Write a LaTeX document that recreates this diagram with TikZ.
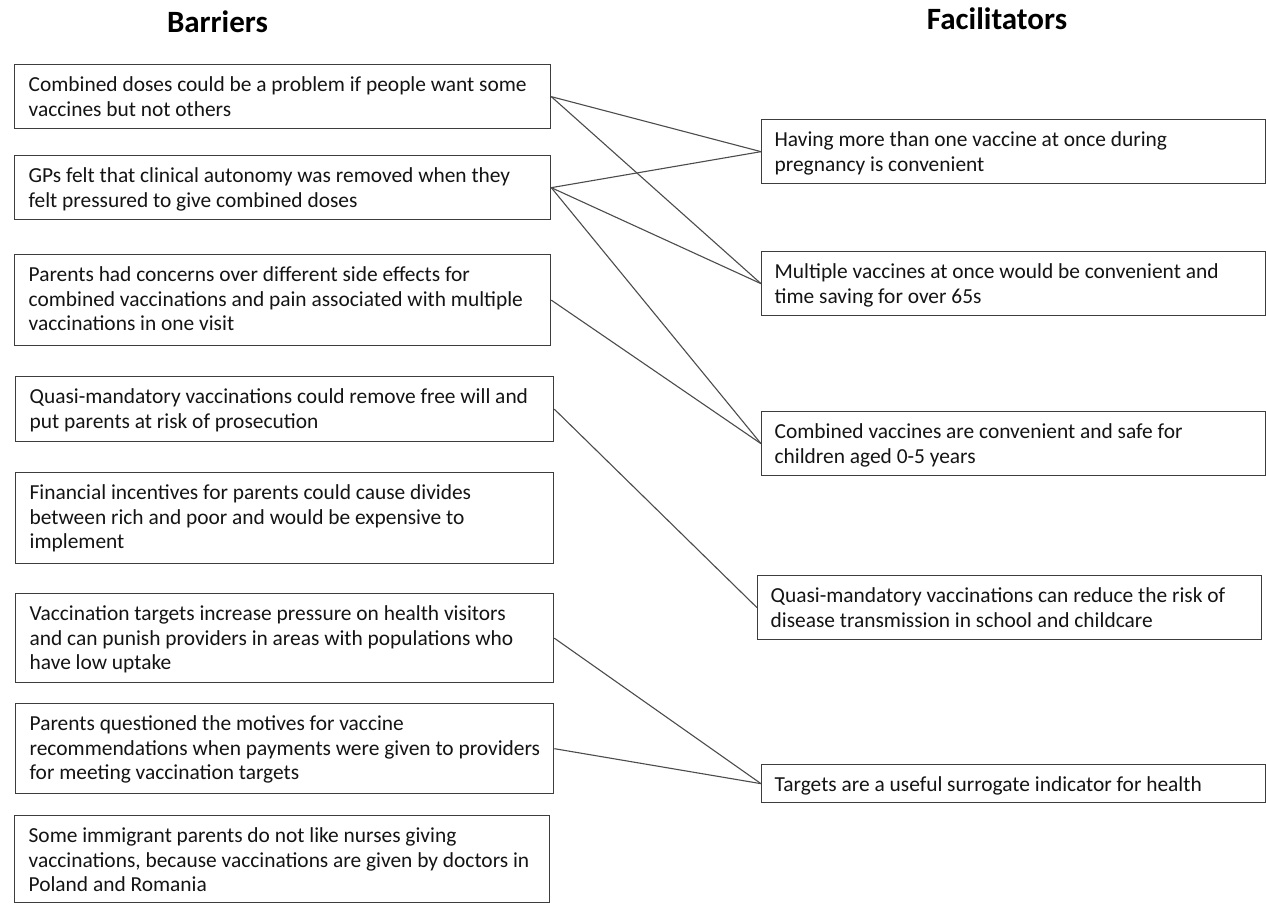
\documentclass[tikz,border=0pt]{standalone}
\usepackage{fontspec}
\setmainfont{Carlito}
\newcommand\bxfont{\fontsize{21.4}{24.5}\selectfont}
\newcommand\hdfont{\fontsize{31}{36}\selectfont\bfseries}
\newcommand\bxt[4]{\parbox[t][#2pt][t]{#1pt}{\leftskip=#3pt\rightskip=0pt plus 1fil\parfillskip=0pt plus 1fil\rule{0pt}{27pt}#4}}
\tikzset{
  box/.style={draw=black!76, line width=1.3pt, inner sep=0pt, anchor=north west, font=\bxfont, text=black!92},
  link/.style={draw=black!70, line width=1.1pt},
  head/.style={font=\hdfont, anchor=base, text=black, inner sep=0pt}
}
\begin{document}
\begin{tikzpicture}[x=1pt,y=-1pt]
\useasboundingbox (0,0) rectangle (1266,903);
\fill[white] (0,0) rectangle (1266,903);
\node[head] (hb) at (217.5,32) {Barriers};
\node[head] (hf) at (997,29) {Facilitators};

\node[box] (b1) at (14,64) {\bxt{536}{64}{14}{Combined doses could be a problem if people want some\\vaccines but not others}};
\node[box] (b2) at (14,155) {\bxt{536}{64}{14}{GPs felt that clinical autonomy was removed when they\\felt pressured to give combined doses}};
\node[box] (b3) at (14,254) {\bxt{536}{91}{14}{Parents had concerns over different side effects for\\combined vaccinations and pain associated with multiple\\vaccinations in one visit}};
\node[box] (b4) at (15,376) {\bxt{538}{65}{14}{Quasi-mandatory vaccinations could remove free will and\\put parents at risk of prosecution}};
\node[box] (b5) at (15,472) {\bxt{538}{91}{14}{Financial incentives for parents could cause divides\\between rich and poor and would be expensive to\\implement}};
\node[box] (b6) at (15,593) {\bxt{538}{89}{14}{Vaccination targets increase pressure on health visitors\\and can punish providers in areas with populations who\\have low uptake}};
\node[box] (b7) at (15,703) {\bxt{538}{90}{14}{Parents questioned the motives for vaccine\\recommendations when payments were given to providers\\for meeting vaccination targets}};
\node[box] (b8) at (14,815) {\bxt{535}{87}{14}{Some immigrant parents do not like nurses giving\\vaccinations, because vaccinations are given by doctors in\\Poland and Romania}};

\node[box] (f1) at (761,119) {\bxt{504}{64}{13}{Having more than one vaccine at once during\\pregnancy is convenient}};
\node[box] (f2) at (761,251) {\bxt{504}{64}{13}{Multiple vaccines at once would be convenient and\\time saving for over 65s}};
\node[box] (f3) at (761,411) {\bxt{504}{64}{13}{Combined vaccines are convenient and safe for\\children aged 0-5 years}};
\node[box] (f4) at (757,575) {\bxt{504}{64}{13}{Quasi-mandatory vaccinations can reduce the risk of\\disease transmission in school and childcare}};
\node[box] (f5) at (761,764) {\bxt{504}{38}{13}{Targets are a useful surrogate indicator for health}};

\draw[link] (b1.east) -- (f1.west);
\draw[link] (b1.east) -- (f2.west);
\draw[link] (b2.east) -- (f1.west);
\draw[link] (b2.east) -- (f2.west);
\draw[link] (b2.east) -- (f3.west);
\draw[link] (b3.east) -- (f3.west);
\draw[link] (b4.east) -- (f4.west);
\draw[link] (b6.east) -- (f5.west);
\draw[link] (b7.east) -- (f5.west);
\end{tikzpicture}
\end{document}
